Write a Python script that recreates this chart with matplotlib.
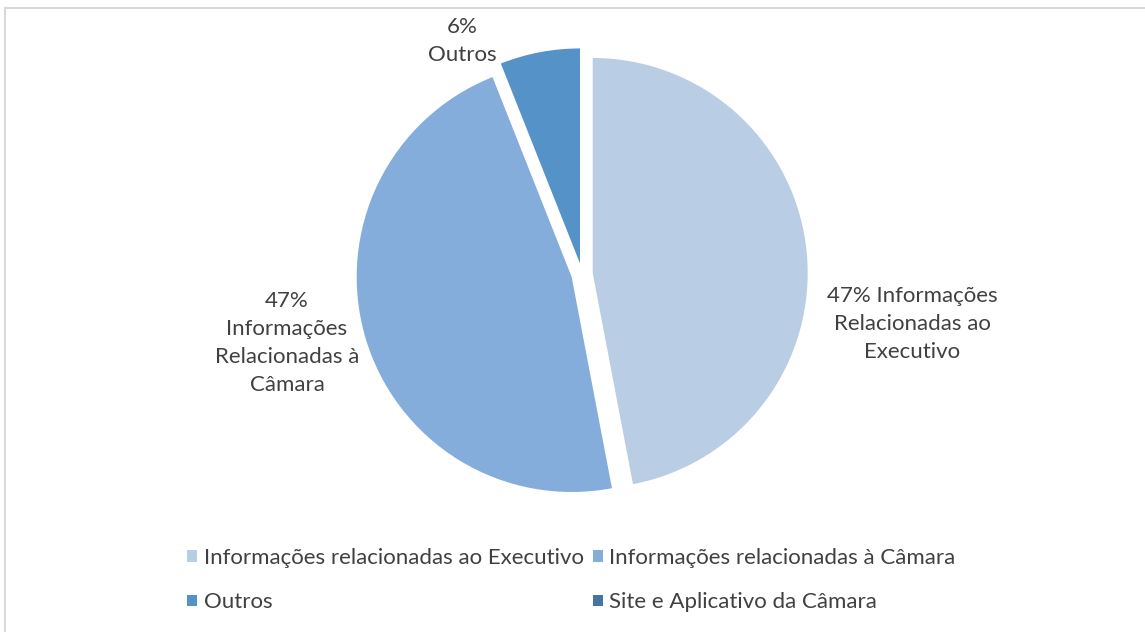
import matplotlib.pyplot as plt
from matplotlib.patches import Rectangle

categories = ['Informações relacionadas ao Executivo',
              'Informações relacionadas à Câmara',
              'Outros',
              'Site e Aplicativo da Câmara']
values = [47, 47, 6, 0]
colors = ['#B9CDE5', '#85ADDB', '#5592C8', '#4473A6']
slice_labels = ['47% Informações\nRelacionadas ao\nExecutivo',
                '47%\nInformações\nRelacionadas à\nCâmara',
                '6%\nOutros']
label_pos = [(1.535, -0.233), (-1.372, -0.321), (-0.558, 1.084)]

plt.rcParams['font.family'] = ['Lato', 'DejaVu Sans']
txt = '#404040'

fig = plt.figure(figsize=(11.45, 6.32), dpi=100)
ax = fig.add_axes([0, 0, 1, 1])
wedges, _ = ax.pie(values, colors=colors, startangle=90, counterclock=False,
                   explode=[0.05] * len(values), radius=1.0,
                   wedgeprops=dict(linewidth=0))
R = 215.0
ax.set_xlim(-582 / R, -582 / R + 1145 / R)
ax.set_ylim(-358 / R, -358 / R + 632 / R)
ax.set_aspect('auto')
ax.axis('off')

for lab, (x, y) in zip(slice_labels, label_pos):
    ax.text(x, y, lab, ha='center', va='center', fontsize=16, color=txt,
            linespacing=1.5)

order = [0, 2, 1, 3]
leg = fig.legend([wedges[i] for i in order], [categories[i] for i in order],
                 ncol=2, loc='center', bbox_to_anchor=(0.499, 0.082),
                 frameon=False, fontsize=16, handlelength=0.45,
                 handleheight=0.45, handletextpad=0.3, columnspacing=0.4,
                 labelspacing=1.1, labelcolor=txt)

fig.patches.append(Rectangle((5 / 1145, -0.1), 1.2, (632 - 8) / 632 + 0.1,
                             transform=fig.transFigure, fill=False,
                             edgecolor='#D9D9D9', linewidth=1.5))

fig.savefig('out.png', dpi=100, facecolor='white')
